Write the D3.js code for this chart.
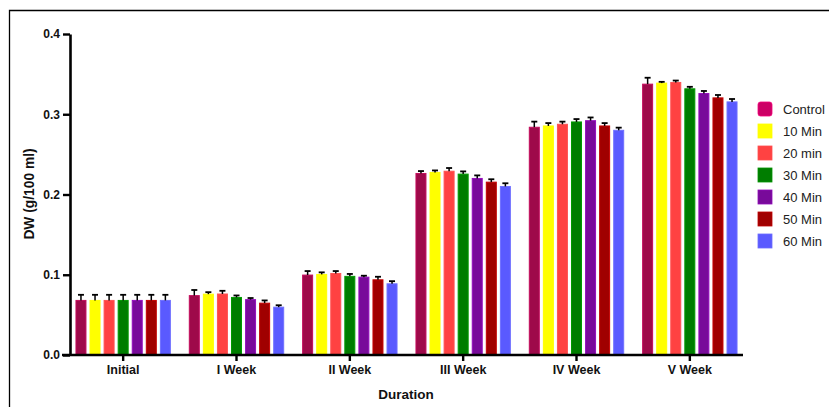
<!DOCTYPE html>
<html><head><meta charset="utf-8">
<script src="https://cdn.jsdelivr.net/npm/d3@7"></script>
<style>body{margin:0;background:#fff}svg{display:block}text{font-family:"Liberation Sans",Arial,sans-serif}</style>
</head><body>
<svg id="c" width="829" height="407"></svg>
<script>
const categories = ["Initial","I Week","II Week","III Week","IV Week","V Week"];
const seriesNames = ["Control","10 Min","20 min","30 Min","40 Min","50 Min","60 Min"];
const barColors = ["#9E0A4A","#FFFF00","#FF4242","#007D00","#780A9A","#A00000","#5A5AFF"];
const legendColors = ["#CC0066","#FFFF00","#FF4242","#007D00","#780A9A","#A00000","#5A5AFF"];
// values[series][category]
const control = [0.068,0.074,0.0996,0.2262,0.2838,0.3375];
const min10   = [0.068,0.0758,0.1004,0.2275,0.2854,0.3388];
const min20   = [0.068,0.076,0.1016,0.229,0.2875,0.3396];
const min30   = [0.068,0.0717,0.098,0.2254,0.2904,0.3317];
const min40   = [0.068,0.069,0.097,0.220,0.292,0.3258];
const min50   = [0.068,0.0646,0.0937,0.2154,0.2854,0.3204];
const min60   = [0.068,0.0596,0.0887,0.210,0.280,0.3154];
const errControl = [0.007,0.007,0.005,0.003,0.007,0.008];
const err10      = [0.007,0.0025,0.0026,0.0025,0.0036,0.0016];
const err20      = [0.007,0.004,0.003,0.004,0.0033,0.0024];
const err30      = [0.007,0.0025,0.003,0.0034,0.0036,0.0025];
const err40      = [0.007,0.002,0.0018,0.0038,0.004,0.0032];
const err50      = [0.007,0.0034,0.0038,0.0036,0.0036,0.0036];
const err60      = [0.007,0.0024,0.0033,0.004,0.0033,0.0036];
const yTicks = [0.0,0.1,0.2,0.3,0.4];

const values = [control,min10,min20,min30,min40,min50,min60];
const errors = [errControl,err10,err20,err30,err40,err50,err60];

const svg = d3.select("#c");
// frame
svg.append("path").attr("d","M9.5,407 L9.5,10.5 L829,10.5").attr("fill","none").attr("stroke","#000").attr("stroke-width",1.3);

const y = d3.scaleLinear().domain([0,0.4]).range([355,34]);
const x0 = d3.scaleBand().domain(categories).range([66.5,746.5]).paddingInner(0).paddingOuter(0);
const x1 = d3.scaleBand().domain(seriesNames).range([7.5,x0.bandwidth()-7.5]).paddingInner(0.29).paddingOuter(0.14);

const g = svg.append("g");
categories.forEach((c,ci)=>{
  seriesNames.forEach((s,si)=>{
    const v = values[si][ci], e = errors[si][ci];
    const bx = x0(c)+x1(s), bw = x1.bandwidth();
    const col = d3.color(barColors[si]);
    g.append("rect").attr("x",bx).attr("y",y(v)).attr("width",bw).attr("height",y(0)-y(v))
      .attr("fill",barColors[si]).attr("stroke",col.brighter(0.6)).attr("stroke-width",1);
    const cx = bx+bw/2;
    g.append("line").attr("x1",cx).attr("x2",cx).attr("y1",y(v)).attr("y2",y(v+e)).attr("stroke","#000").attr("stroke-width",1.5);
    g.append("line").attr("x1",cx-3).attr("x2",cx+3).attr("y1",y(v+e)).attr("y2",y(v+e)).attr("stroke","#000").attr("stroke-width",1.8);
  });
});

// y axis
const ya = svg.append("g").attr("transform","translate(70,0)")
  .call(d3.axisLeft(y).tickValues(yTicks).tickFormat(d3.format(".1f")).tickSize(7).tickSizeOuter(0));
ya.select(".domain").attr("stroke-width",2.6);
ya.selectAll(".tick line").attr("stroke-width",2.4);
ya.selectAll(".tick text").attr("font-size",12).attr("font-weight","bold").attr("fill","#111").attr("x",-10);

// x axis
const xa = svg.append("g").attr("transform","translate(0,355)")
  .call(d3.axisBottom(x0).tickSize(6).tickSizeOuter(0));
xa.select(".domain").attr("d","M62,0H743").attr("stroke-width",2.6);
xa.selectAll(".tick line").attr("stroke-width",2.4);
xa.selectAll(".tick text").attr("font-size",12.5).attr("font-weight","bold").attr("fill","#111").attr("y",10);

// axis titles
svg.append("text").attr("x",406).attr("y",399).attr("text-anchor","middle").attr("font-size",13.5).attr("font-weight","bold").attr("fill","#111").text("Duration");
svg.append("text").attr("transform","translate(34,194) rotate(-90)").attr("text-anchor","middle").attr("font-size",13.8).attr("font-weight","bold").attr("fill","#111").text("DW (g/100 ml)");

// legend
const lg = svg.append("g");
seriesNames.forEach((s,i)=>{
  const yy = 109 + i*22;
  lg.append("rect").attr("x",758).attr("y",yy-7).attr("width",14).attr("height",14).attr("rx",i===0?2.5:0)
    .attr("fill",legendColors[i]).attr("stroke",d3.color(legendColors[i]).brighter(0.5)).attr("stroke-width",0.8);
  lg.append("text").attr("x",783).attr("y",yy).attr("dy","0.35em").attr("font-size",13).attr("fill","#222").text(s);
});
</script>
</body></html>
